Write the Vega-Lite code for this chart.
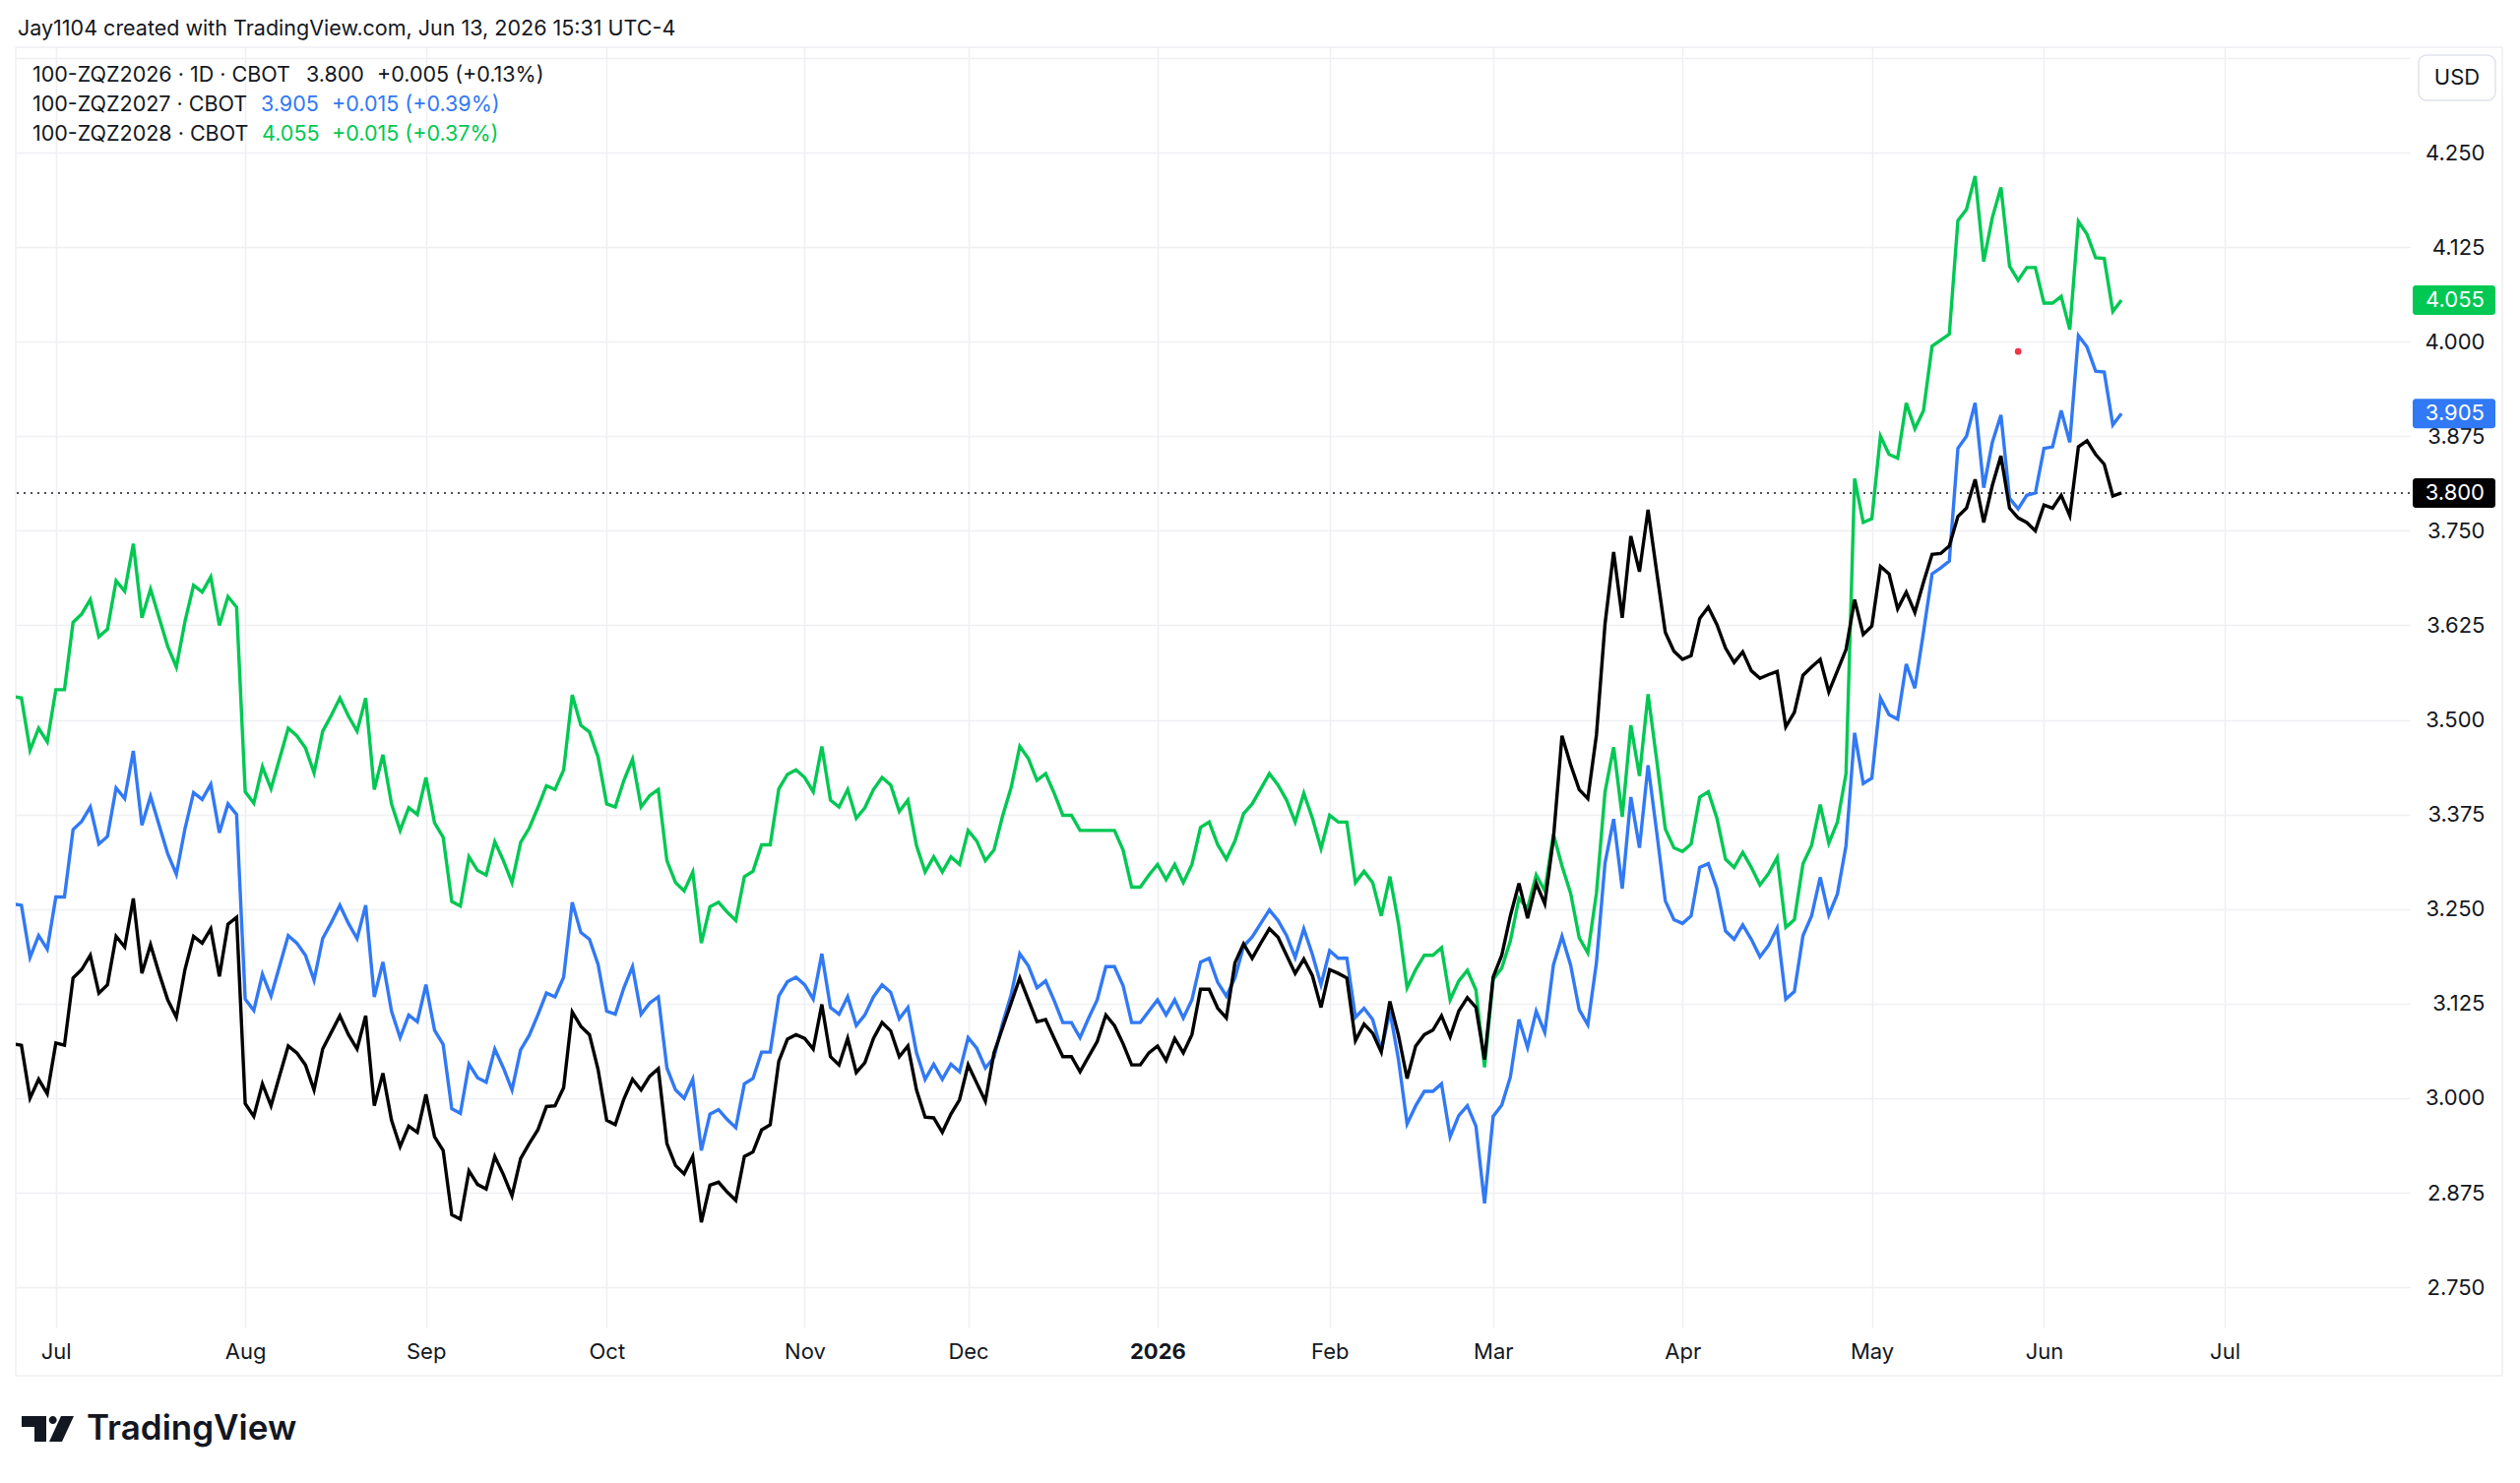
{
  "$schema": "https://vega.github.io/schema/vega-lite/v6.json",
  "width": 2432,
  "height": 1301,
  "autosize": {"type": "none"},
  "padding": {"left": 16, "top": 48, "right": 112, "bottom": 158},
  "background": "#ffffff",
  "config": {
    "view": {"stroke": null},
    "font": "Inter",
    "text": {"font": "Inter"},
    "axis": {"domain": false, "ticks": false, "gridColor": "#eef0f3", "gridWidth": 1.5, "labelFont": "Inter", "labelFontSize": 22, "labelColor": "#131722"}
  },
  "datasets": {
    "prices": [
      {"i": -5, "ZQZ2026": 3.072, "ZQZ2027": 3.257, "ZQZ2028": 3.531},
      {"i": -4, "ZQZ2026": 3.070, "ZQZ2027": 3.255, "ZQZ2028": 3.529},
      {"i": -3, "ZQZ2026": 3.000, "ZQZ2027": 3.186, "ZQZ2028": 3.460},
      {"i": -2, "ZQZ2026": 3.025, "ZQZ2027": 3.215, "ZQZ2028": 3.489},
      {"i": -1, "ZQZ2026": 3.006, "ZQZ2027": 3.197, "ZQZ2028": 3.471},
      {"i": 0, "ZQZ2026": 3.073, "ZQZ2027": 3.266, "ZQZ2028": 3.540},
      {"i": 1, "ZQZ2026": 3.070, "ZQZ2027": 3.266, "ZQZ2028": 3.540},
      {"i": 2, "ZQZ2026": 3.159, "ZQZ2027": 3.355, "ZQZ2028": 3.629},
      {"i": 3, "ZQZ2026": 3.170, "ZQZ2027": 3.366, "ZQZ2028": 3.640},
      {"i": 4, "ZQZ2026": 3.189, "ZQZ2027": 3.385, "ZQZ2028": 3.659},
      {"i": 5, "ZQZ2026": 3.139, "ZQZ2027": 3.336, "ZQZ2028": 3.610},
      {"i": 6, "ZQZ2026": 3.150, "ZQZ2027": 3.346, "ZQZ2028": 3.620},
      {"i": 7, "ZQZ2026": 3.214, "ZQZ2027": 3.410, "ZQZ2028": 3.684},
      {"i": 8, "ZQZ2026": 3.200, "ZQZ2027": 3.396, "ZQZ2028": 3.670},
      {"i": 9, "ZQZ2026": 3.264, "ZQZ2027": 3.459, "ZQZ2028": 3.733},
      {"i": 10, "ZQZ2026": 3.165, "ZQZ2027": 3.361, "ZQZ2028": 3.635},
      {"i": 11, "ZQZ2026": 3.203, "ZQZ2027": 3.399, "ZQZ2028": 3.673},
      {"i": 12, "ZQZ2026": 3.165, "ZQZ2027": 3.361, "ZQZ2028": 3.635},
      {"i": 13, "ZQZ2026": 3.130, "ZQZ2027": 3.323, "ZQZ2028": 3.597},
      {"i": 14, "ZQZ2026": 3.107, "ZQZ2027": 3.296, "ZQZ2028": 3.570},
      {"i": 15, "ZQZ2026": 3.170, "ZQZ2027": 3.356, "ZQZ2028": 3.630},
      {"i": 16, "ZQZ2026": 3.214, "ZQZ2027": 3.404, "ZQZ2028": 3.678},
      {"i": 17, "ZQZ2026": 3.205, "ZQZ2027": 3.395, "ZQZ2028": 3.669},
      {"i": 18, "ZQZ2026": 3.224, "ZQZ2027": 3.415, "ZQZ2028": 3.689},
      {"i": 19, "ZQZ2026": 3.161, "ZQZ2027": 3.351, "ZQZ2028": 3.625},
      {"i": 20, "ZQZ2026": 3.230, "ZQZ2027": 3.389, "ZQZ2028": 3.663},
      {"i": 21, "ZQZ2026": 3.239, "ZQZ2027": 3.375, "ZQZ2028": 3.649},
      {"i": 22, "ZQZ2026": 2.993, "ZQZ2027": 3.131, "ZQZ2028": 3.405},
      {"i": 23, "ZQZ2026": 2.976, "ZQZ2027": 3.116, "ZQZ2028": 3.390},
      {"i": 24, "ZQZ2026": 3.019, "ZQZ2027": 3.164, "ZQZ2028": 3.438},
      {"i": 25, "ZQZ2026": 2.990, "ZQZ2027": 3.135, "ZQZ2028": 3.409},
      {"i": 26, "ZQZ2026": 3.030, "ZQZ2027": 3.175, "ZQZ2028": 3.449},
      {"i": 27, "ZQZ2026": 3.069, "ZQZ2027": 3.215, "ZQZ2028": 3.489},
      {"i": 28, "ZQZ2026": 3.060, "ZQZ2027": 3.205, "ZQZ2028": 3.479},
      {"i": 29, "ZQZ2026": 3.044, "ZQZ2027": 3.189, "ZQZ2028": 3.463},
      {"i": 30, "ZQZ2026": 3.011, "ZQZ2027": 3.156, "ZQZ2028": 3.430},
      {"i": 31, "ZQZ2026": 3.065, "ZQZ2027": 3.211, "ZQZ2028": 3.485},
      {"i": 32, "ZQZ2026": 3.087, "ZQZ2027": 3.232, "ZQZ2028": 3.506},
      {"i": 33, "ZQZ2026": 3.109, "ZQZ2027": 3.255, "ZQZ2028": 3.529},
      {"i": 34, "ZQZ2026": 3.084, "ZQZ2027": 3.231, "ZQZ2028": 3.505},
      {"i": 35, "ZQZ2026": 3.065, "ZQZ2027": 3.211, "ZQZ2028": 3.485},
      {"i": 36, "ZQZ2026": 3.109, "ZQZ2027": 3.255, "ZQZ2028": 3.529},
      {"i": 37, "ZQZ2026": 2.990, "ZQZ2027": 3.134, "ZQZ2028": 3.408},
      {"i": 38, "ZQZ2026": 3.033, "ZQZ2027": 3.180, "ZQZ2028": 3.454},
      {"i": 39, "ZQZ2026": 2.971, "ZQZ2027": 3.115, "ZQZ2028": 3.389},
      {"i": 40, "ZQZ2026": 2.936, "ZQZ2027": 3.080, "ZQZ2028": 3.354},
      {"i": 41, "ZQZ2026": 2.963, "ZQZ2027": 3.110, "ZQZ2028": 3.384},
      {"i": 42, "ZQZ2026": 2.955, "ZQZ2027": 3.101, "ZQZ2028": 3.375},
      {"i": 43, "ZQZ2026": 3.005, "ZQZ2027": 3.150, "ZQZ2028": 3.424},
      {"i": 44, "ZQZ2026": 2.949, "ZQZ2027": 3.090, "ZQZ2028": 3.364},
      {"i": 45, "ZQZ2026": 2.931, "ZQZ2027": 3.071, "ZQZ2028": 3.345},
      {"i": 46, "ZQZ2026": 2.846, "ZQZ2027": 2.986, "ZQZ2028": 3.260},
      {"i": 47, "ZQZ2026": 2.840, "ZQZ2027": 2.980, "ZQZ2028": 3.254},
      {"i": 48, "ZQZ2026": 2.904, "ZQZ2027": 3.045, "ZQZ2028": 3.319},
      {"i": 49, "ZQZ2026": 2.886, "ZQZ2027": 3.027, "ZQZ2028": 3.301},
      {"i": 50, "ZQZ2026": 2.880, "ZQZ2027": 3.021, "ZQZ2028": 3.295},
      {"i": 51, "ZQZ2026": 2.923, "ZQZ2027": 3.065, "ZQZ2028": 3.339},
      {"i": 52, "ZQZ2026": 2.899, "ZQZ2027": 3.040, "ZQZ2028": 3.314},
      {"i": 53, "ZQZ2026": 2.871, "ZQZ2027": 3.011, "ZQZ2028": 3.285},
      {"i": 54, "ZQZ2026": 2.920, "ZQZ2027": 3.064, "ZQZ2028": 3.338},
      {"i": 55, "ZQZ2026": 2.940, "ZQZ2027": 3.083, "ZQZ2028": 3.357},
      {"i": 56, "ZQZ2026": 2.958, "ZQZ2027": 3.110, "ZQZ2028": 3.384},
      {"i": 57, "ZQZ2026": 2.989, "ZQZ2027": 3.139, "ZQZ2028": 3.413},
      {"i": 58, "ZQZ2026": 2.990, "ZQZ2027": 3.134, "ZQZ2028": 3.408},
      {"i": 59, "ZQZ2026": 3.014, "ZQZ2027": 3.160, "ZQZ2028": 3.434},
      {"i": 60, "ZQZ2026": 3.114, "ZQZ2027": 3.259, "ZQZ2028": 3.533},
      {"i": 61, "ZQZ2026": 3.095, "ZQZ2027": 3.219, "ZQZ2028": 3.493},
      {"i": 62, "ZQZ2026": 3.084, "ZQZ2027": 3.210, "ZQZ2028": 3.484},
      {"i": 63, "ZQZ2026": 3.038, "ZQZ2027": 3.177, "ZQZ2028": 3.451},
      {"i": 64, "ZQZ2026": 2.971, "ZQZ2027": 3.115, "ZQZ2028": 3.389},
      {"i": 65, "ZQZ2026": 2.965, "ZQZ2027": 3.111, "ZQZ2028": 3.385},
      {"i": 66, "ZQZ2026": 2.999, "ZQZ2027": 3.146, "ZQZ2028": 3.420},
      {"i": 67, "ZQZ2026": 3.025, "ZQZ2027": 3.174, "ZQZ2028": 3.448},
      {"i": 68, "ZQZ2026": 3.011, "ZQZ2027": 3.111, "ZQZ2028": 3.385},
      {"i": 69, "ZQZ2026": 3.029, "ZQZ2027": 3.126, "ZQZ2028": 3.400},
      {"i": 70, "ZQZ2026": 3.039, "ZQZ2027": 3.134, "ZQZ2028": 3.408},
      {"i": 71, "ZQZ2026": 2.940, "ZQZ2027": 3.040, "ZQZ2028": 3.314},
      {"i": 72, "ZQZ2026": 2.911, "ZQZ2027": 3.011, "ZQZ2028": 3.285},
      {"i": 73, "ZQZ2026": 2.900, "ZQZ2027": 3.000, "ZQZ2028": 3.274},
      {"i": 74, "ZQZ2026": 2.923, "ZQZ2027": 3.025, "ZQZ2028": 3.299},
      {"i": 75, "ZQZ2026": 2.836, "ZQZ2027": 2.931, "ZQZ2028": 3.205},
      {"i": 76, "ZQZ2026": 2.885, "ZQZ2027": 2.979, "ZQZ2028": 3.253},
      {"i": 77, "ZQZ2026": 2.889, "ZQZ2027": 2.985, "ZQZ2028": 3.259},
      {"i": 78, "ZQZ2026": 2.876, "ZQZ2027": 2.972, "ZQZ2028": 3.246},
      {"i": 79, "ZQZ2026": 2.865, "ZQZ2027": 2.961, "ZQZ2028": 3.235},
      {"i": 80, "ZQZ2026": 2.923, "ZQZ2027": 3.019, "ZQZ2028": 3.293},
      {"i": 81, "ZQZ2026": 2.929, "ZQZ2027": 3.026, "ZQZ2028": 3.300},
      {"i": 82, "ZQZ2026": 2.958, "ZQZ2027": 3.061, "ZQZ2028": 3.335},
      {"i": 83, "ZQZ2026": 2.965, "ZQZ2027": 3.061, "ZQZ2028": 3.335},
      {"i": 84, "ZQZ2026": 3.049, "ZQZ2027": 3.135, "ZQZ2028": 3.409},
      {"i": 85, "ZQZ2026": 3.078, "ZQZ2027": 3.154, "ZQZ2028": 3.428},
      {"i": 86, "ZQZ2026": 3.084, "ZQZ2027": 3.160, "ZQZ2028": 3.434},
      {"i": 87, "ZQZ2026": 3.079, "ZQZ2027": 3.150, "ZQZ2028": 3.424},
      {"i": 88, "ZQZ2026": 3.065, "ZQZ2027": 3.131, "ZQZ2028": 3.405},
      {"i": 89, "ZQZ2026": 3.124, "ZQZ2027": 3.191, "ZQZ2028": 3.465},
      {"i": 90, "ZQZ2026": 3.055, "ZQZ2027": 3.120, "ZQZ2028": 3.394},
      {"i": 91, "ZQZ2026": 3.044, "ZQZ2027": 3.111, "ZQZ2028": 3.385},
      {"i": 92, "ZQZ2026": 3.079, "ZQZ2027": 3.134, "ZQZ2028": 3.408},
      {"i": 93, "ZQZ2026": 3.034, "ZQZ2027": 3.096, "ZQZ2028": 3.370},
      {"i": 94, "ZQZ2026": 3.047, "ZQZ2027": 3.110, "ZQZ2028": 3.384},
      {"i": 95, "ZQZ2026": 3.079, "ZQZ2027": 3.134, "ZQZ2028": 3.408},
      {"i": 96, "ZQZ2026": 3.100, "ZQZ2027": 3.150, "ZQZ2028": 3.424},
      {"i": 97, "ZQZ2026": 3.089, "ZQZ2027": 3.140, "ZQZ2028": 3.414},
      {"i": 98, "ZQZ2026": 3.055, "ZQZ2027": 3.105, "ZQZ2028": 3.379},
      {"i": 99, "ZQZ2026": 3.069, "ZQZ2027": 3.120, "ZQZ2028": 3.394},
      {"i": 100, "ZQZ2026": 3.011, "ZQZ2027": 3.060, "ZQZ2028": 3.334},
      {"i": 101, "ZQZ2026": 2.975, "ZQZ2027": 3.025, "ZQZ2028": 3.299},
      {"i": 102, "ZQZ2026": 2.974, "ZQZ2027": 3.045, "ZQZ2028": 3.319},
      {"i": 103, "ZQZ2026": 2.955, "ZQZ2027": 3.025, "ZQZ2028": 3.299},
      {"i": 104, "ZQZ2026": 2.979, "ZQZ2027": 3.045, "ZQZ2028": 3.319},
      {"i": 105, "ZQZ2026": 2.998, "ZQZ2027": 3.035, "ZQZ2028": 3.309},
      {"i": 106, "ZQZ2026": 3.044, "ZQZ2027": 3.080, "ZQZ2028": 3.354},
      {"i": 107, "ZQZ2026": 3.020, "ZQZ2027": 3.066, "ZQZ2028": 3.340},
      {"i": 108, "ZQZ2026": 2.996, "ZQZ2027": 3.040, "ZQZ2028": 3.314},
      {"i": 109, "ZQZ2026": 3.060, "ZQZ2027": 3.054, "ZQZ2028": 3.328},
      {"i": 110, "ZQZ2026": 3.093, "ZQZ2027": 3.099, "ZQZ2028": 3.373},
      {"i": 111, "ZQZ2026": 3.126, "ZQZ2027": 3.137, "ZQZ2028": 3.411},
      {"i": 112, "ZQZ2026": 3.159, "ZQZ2027": 3.191, "ZQZ2028": 3.465},
      {"i": 113, "ZQZ2026": 3.130, "ZQZ2027": 3.175, "ZQZ2028": 3.449},
      {"i": 114, "ZQZ2026": 3.101, "ZQZ2027": 3.146, "ZQZ2028": 3.420},
      {"i": 115, "ZQZ2026": 3.104, "ZQZ2027": 3.155, "ZQZ2028": 3.429},
      {"i": 116, "ZQZ2026": 3.079, "ZQZ2027": 3.129, "ZQZ2028": 3.403},
      {"i": 117, "ZQZ2026": 3.055, "ZQZ2027": 3.100, "ZQZ2028": 3.374},
      {"i": 118, "ZQZ2026": 3.055, "ZQZ2027": 3.100, "ZQZ2028": 3.374},
      {"i": 119, "ZQZ2026": 3.035, "ZQZ2027": 3.080, "ZQZ2028": 3.354},
      {"i": 120, "ZQZ2026": 3.055, "ZQZ2027": 3.106, "ZQZ2028": 3.354},
      {"i": 121, "ZQZ2026": 3.075, "ZQZ2027": 3.130, "ZQZ2028": 3.354},
      {"i": 122, "ZQZ2026": 3.110, "ZQZ2027": 3.174, "ZQZ2028": 3.354},
      {"i": 123, "ZQZ2026": 3.096, "ZQZ2027": 3.174, "ZQZ2028": 3.354},
      {"i": 124, "ZQZ2026": 3.072, "ZQZ2027": 3.149, "ZQZ2028": 3.328},
      {"i": 125, "ZQZ2026": 3.044, "ZQZ2027": 3.100, "ZQZ2028": 3.279},
      {"i": 126, "ZQZ2026": 3.044, "ZQZ2027": 3.100, "ZQZ2028": 3.279},
      {"i": 127, "ZQZ2026": 3.060, "ZQZ2027": 3.115, "ZQZ2028": 3.295},
      {"i": 128, "ZQZ2026": 3.069, "ZQZ2027": 3.130, "ZQZ2028": 3.309},
      {"i": 129, "ZQZ2026": 3.050, "ZQZ2027": 3.110, "ZQZ2028": 3.289},
      {"i": 130, "ZQZ2026": 3.079, "ZQZ2027": 3.130, "ZQZ2028": 3.309},
      {"i": 131, "ZQZ2026": 3.060, "ZQZ2027": 3.106, "ZQZ2028": 3.285},
      {"i": 132, "ZQZ2026": 3.084, "ZQZ2027": 3.130, "ZQZ2028": 3.309},
      {"i": 133, "ZQZ2026": 3.144, "ZQZ2027": 3.180, "ZQZ2028": 3.358},
      {"i": 134, "ZQZ2026": 3.144, "ZQZ2027": 3.185, "ZQZ2028": 3.365},
      {"i": 135, "ZQZ2026": 3.119, "ZQZ2027": 3.153, "ZQZ2028": 3.335},
      {"i": 136, "ZQZ2026": 3.106, "ZQZ2027": 3.135, "ZQZ2028": 3.316},
      {"i": 137, "ZQZ2026": 3.179, "ZQZ2027": 3.159, "ZQZ2028": 3.340},
      {"i": 138, "ZQZ2026": 3.204, "ZQZ2027": 3.201, "ZQZ2028": 3.376},
      {"i": 139, "ZQZ2026": 3.185, "ZQZ2027": 3.213, "ZQZ2028": 3.389},
      {"i": 140, "ZQZ2026": 3.205, "ZQZ2027": 3.231, "ZQZ2028": 3.409},
      {"i": 141, "ZQZ2026": 3.224, "ZQZ2027": 3.249, "ZQZ2028": 3.429},
      {"i": 142, "ZQZ2026": 3.213, "ZQZ2027": 3.235, "ZQZ2028": 3.414},
      {"i": 143, "ZQZ2026": 3.189, "ZQZ2027": 3.215, "ZQZ2028": 3.394},
      {"i": 144, "ZQZ2026": 3.165, "ZQZ2027": 3.186, "ZQZ2028": 3.365},
      {"i": 145, "ZQZ2026": 3.184, "ZQZ2027": 3.224, "ZQZ2028": 3.403},
      {"i": 146, "ZQZ2026": 3.162, "ZQZ2027": 3.190, "ZQZ2028": 3.370},
      {"i": 147, "ZQZ2026": 3.120, "ZQZ2027": 3.150, "ZQZ2028": 3.330},
      {"i": 148, "ZQZ2026": 3.170, "ZQZ2027": 3.195, "ZQZ2028": 3.374},
      {"i": 149, "ZQZ2026": 3.165, "ZQZ2027": 3.185, "ZQZ2028": 3.365},
      {"i": 150, "ZQZ2026": 3.159, "ZQZ2027": 3.185, "ZQZ2028": 3.365},
      {"i": 151, "ZQZ2026": 3.076, "ZQZ2027": 3.107, "ZQZ2028": 3.285},
      {"i": 152, "ZQZ2026": 3.098, "ZQZ2027": 3.119, "ZQZ2028": 3.300},
      {"i": 153, "ZQZ2026": 3.086, "ZQZ2027": 3.104, "ZQZ2028": 3.285},
      {"i": 154, "ZQZ2026": 3.061, "ZQZ2027": 3.063, "ZQZ2028": 3.241},
      {"i": 155, "ZQZ2026": 3.128, "ZQZ2027": 3.115, "ZQZ2028": 3.293},
      {"i": 156, "ZQZ2026": 3.083, "ZQZ2027": 3.051, "ZQZ2028": 3.231},
      {"i": 157, "ZQZ2026": 3.026, "ZQZ2027": 2.966, "ZQZ2028": 3.146},
      {"i": 158, "ZQZ2026": 3.069, "ZQZ2027": 2.990, "ZQZ2028": 3.170},
      {"i": 159, "ZQZ2026": 3.084, "ZQZ2027": 3.009, "ZQZ2028": 3.189},
      {"i": 160, "ZQZ2026": 3.090, "ZQZ2027": 3.009, "ZQZ2028": 3.189},
      {"i": 161, "ZQZ2026": 3.109, "ZQZ2027": 3.019, "ZQZ2028": 3.199},
      {"i": 162, "ZQZ2026": 3.081, "ZQZ2027": 2.949, "ZQZ2028": 3.130},
      {"i": 163, "ZQZ2026": 3.115, "ZQZ2027": 2.977, "ZQZ2028": 3.155},
      {"i": 164, "ZQZ2026": 3.133, "ZQZ2027": 2.990, "ZQZ2028": 3.169},
      {"i": 165, "ZQZ2026": 3.120, "ZQZ2027": 2.963, "ZQZ2028": 3.143},
      {"i": 166, "ZQZ2026": 3.051, "ZQZ2027": 2.861, "ZQZ2028": 3.041},
      {"i": 167, "ZQZ2026": 3.160, "ZQZ2027": 2.976, "ZQZ2028": 3.157},
      {"i": 168, "ZQZ2026": 3.189, "ZQZ2027": 2.991, "ZQZ2028": 3.172},
      {"i": 169, "ZQZ2026": 3.241, "ZQZ2027": 3.028, "ZQZ2028": 3.208},
      {"i": 170, "ZQZ2026": 3.284, "ZQZ2027": 3.104, "ZQZ2028": 3.264},
      {"i": 171, "ZQZ2026": 3.238, "ZQZ2027": 3.067, "ZQZ2028": 3.251},
      {"i": 172, "ZQZ2026": 3.284, "ZQZ2027": 3.115, "ZQZ2028": 3.295},
      {"i": 173, "ZQZ2026": 3.257, "ZQZ2027": 3.087, "ZQZ2028": 3.274},
      {"i": 174, "ZQZ2026": 3.343, "ZQZ2027": 3.176, "ZQZ2028": 3.349},
      {"i": 175, "ZQZ2026": 3.479, "ZQZ2027": 3.214, "ZQZ2028": 3.307},
      {"i": 176, "ZQZ2026": 3.441, "ZQZ2027": 3.176, "ZQZ2028": 3.271},
      {"i": 177, "ZQZ2026": 3.408, "ZQZ2027": 3.117, "ZQZ2028": 3.212},
      {"i": 178, "ZQZ2026": 3.396, "ZQZ2027": 3.097, "ZQZ2028": 3.192},
      {"i": 179, "ZQZ2026": 3.480, "ZQZ2027": 3.179, "ZQZ2028": 3.271},
      {"i": 180, "ZQZ2026": 3.627, "ZQZ2027": 3.311, "ZQZ2028": 3.405},
      {"i": 181, "ZQZ2026": 3.722, "ZQZ2027": 3.369, "ZQZ2028": 3.464},
      {"i": 182, "ZQZ2026": 3.635, "ZQZ2027": 3.277, "ZQZ2028": 3.372},
      {"i": 183, "ZQZ2026": 3.743, "ZQZ2027": 3.398, "ZQZ2028": 3.493},
      {"i": 184, "ZQZ2026": 3.696, "ZQZ2027": 3.331, "ZQZ2028": 3.426},
      {"i": 185, "ZQZ2026": 3.778, "ZQZ2027": 3.440, "ZQZ2028": 3.534},
      {"i": 186, "ZQZ2026": 3.696, "ZQZ2027": 3.352, "ZQZ2028": 3.447},
      {"i": 187, "ZQZ2026": 3.616, "ZQZ2027": 3.261, "ZQZ2028": 3.356},
      {"i": 188, "ZQZ2026": 3.591, "ZQZ2027": 3.236, "ZQZ2028": 3.331},
      {"i": 189, "ZQZ2026": 3.580, "ZQZ2027": 3.231, "ZQZ2028": 3.326},
      {"i": 190, "ZQZ2026": 3.585, "ZQZ2027": 3.241, "ZQZ2028": 3.336},
      {"i": 191, "ZQZ2026": 3.634, "ZQZ2027": 3.305, "ZQZ2028": 3.398},
      {"i": 192, "ZQZ2026": 3.649, "ZQZ2027": 3.310, "ZQZ2028": 3.405},
      {"i": 193, "ZQZ2026": 3.626, "ZQZ2027": 3.277, "ZQZ2028": 3.370},
      {"i": 194, "ZQZ2026": 3.595, "ZQZ2027": 3.221, "ZQZ2028": 3.316},
      {"i": 195, "ZQZ2026": 3.576, "ZQZ2027": 3.210, "ZQZ2028": 3.305},
      {"i": 196, "ZQZ2026": 3.590, "ZQZ2027": 3.229, "ZQZ2028": 3.325},
      {"i": 197, "ZQZ2026": 3.565, "ZQZ2027": 3.210, "ZQZ2028": 3.305},
      {"i": 198, "ZQZ2026": 3.555, "ZQZ2027": 3.187, "ZQZ2028": 3.282},
      {"i": 199, "ZQZ2026": 3.560, "ZQZ2027": 3.202, "ZQZ2028": 3.297},
      {"i": 200, "ZQZ2026": 3.564, "ZQZ2027": 3.225, "ZQZ2028": 3.318},
      {"i": 201, "ZQZ2026": 3.491, "ZQZ2027": 3.131, "ZQZ2028": 3.226},
      {"i": 202, "ZQZ2026": 3.510, "ZQZ2027": 3.141, "ZQZ2028": 3.236},
      {"i": 203, "ZQZ2026": 3.559, "ZQZ2027": 3.215, "ZQZ2028": 3.310},
      {"i": 204, "ZQZ2026": 3.570, "ZQZ2027": 3.241, "ZQZ2028": 3.334},
      {"i": 205, "ZQZ2026": 3.580, "ZQZ2027": 3.292, "ZQZ2028": 3.388},
      {"i": 206, "ZQZ2026": 3.537, "ZQZ2027": 3.242, "ZQZ2028": 3.337},
      {"i": 207, "ZQZ2026": 3.565, "ZQZ2027": 3.270, "ZQZ2028": 3.365},
      {"i": 208, "ZQZ2026": 3.593, "ZQZ2027": 3.334, "ZQZ2028": 3.429},
      {"i": 209, "ZQZ2026": 3.659, "ZQZ2027": 3.483, "ZQZ2028": 3.819},
      {"i": 210, "ZQZ2026": 3.613, "ZQZ2027": 3.416, "ZQZ2028": 3.761},
      {"i": 211, "ZQZ2026": 3.624, "ZQZ2027": 3.423, "ZQZ2028": 3.766},
      {"i": 212, "ZQZ2026": 3.703, "ZQZ2027": 3.529, "ZQZ2028": 3.875},
      {"i": 213, "ZQZ2026": 3.693, "ZQZ2027": 3.507, "ZQZ2028": 3.851},
      {"i": 214, "ZQZ2026": 3.647, "ZQZ2027": 3.501, "ZQZ2028": 3.846},
      {"i": 215, "ZQZ2026": 3.669, "ZQZ2027": 3.574, "ZQZ2028": 3.919},
      {"i": 216, "ZQZ2026": 3.642, "ZQZ2027": 3.542, "ZQZ2028": 3.885},
      {"i": 217, "ZQZ2026": 3.682, "ZQZ2027": 3.616, "ZQZ2028": 3.909},
      {"i": 218, "ZQZ2026": 3.719, "ZQZ2027": 3.693, "ZQZ2028": 3.994},
      {"i": 219, "ZQZ2026": 3.720, "ZQZ2027": 3.701, "ZQZ2028": 4.002},
      {"i": 220, "ZQZ2026": 3.730, "ZQZ2027": 3.710, "ZQZ2028": 4.010},
      {"i": 221, "ZQZ2026": 3.769, "ZQZ2027": 3.859, "ZQZ2028": 4.160},
      {"i": 222, "ZQZ2026": 3.780, "ZQZ2027": 3.875, "ZQZ2028": 4.175},
      {"i": 223, "ZQZ2026": 3.818, "ZQZ2027": 3.919, "ZQZ2028": 4.219},
      {"i": 224, "ZQZ2026": 3.761, "ZQZ2027": 3.807, "ZQZ2028": 4.106},
      {"i": 225, "ZQZ2026": 3.810, "ZQZ2027": 3.867, "ZQZ2028": 4.164},
      {"i": 226, "ZQZ2026": 3.849, "ZQZ2027": 3.903, "ZQZ2028": 4.204},
      {"i": 227, "ZQZ2026": 3.780, "ZQZ2027": 3.793, "ZQZ2028": 4.100},
      {"i": 228, "ZQZ2026": 3.767, "ZQZ2027": 3.779, "ZQZ2028": 4.081},
      {"i": 229, "ZQZ2026": 3.761, "ZQZ2027": 3.797, "ZQZ2028": 4.098},
      {"i": 230, "ZQZ2026": 3.750, "ZQZ2027": 3.800, "ZQZ2028": 4.098},
      {"i": 231, "ZQZ2026": 3.784, "ZQZ2027": 3.859, "ZQZ2028": 4.051},
      {"i": 232, "ZQZ2026": 3.780, "ZQZ2027": 3.861, "ZQZ2028": 4.051},
      {"i": 233, "ZQZ2026": 3.797, "ZQZ2027": 3.909, "ZQZ2028": 4.060},
      {"i": 234, "ZQZ2026": 3.770, "ZQZ2027": 3.867, "ZQZ2028": 4.016},
      {"i": 235, "ZQZ2026": 3.861, "ZQZ2027": 4.008, "ZQZ2028": 4.159},
      {"i": 236, "ZQZ2026": 3.869, "ZQZ2027": 3.993, "ZQZ2028": 4.142},
      {"i": 237, "ZQZ2026": 3.851, "ZQZ2027": 3.961, "ZQZ2028": 4.111},
      {"i": 238, "ZQZ2026": 3.838, "ZQZ2027": 3.960, "ZQZ2028": 4.110},
      {"i": 239, "ZQZ2026": 3.796, "ZQZ2027": 3.890, "ZQZ2028": 4.040},
      {"i": 240, "ZQZ2026": 3.800, "ZQZ2027": 3.905, "ZQZ2028": 4.055}
    ],
    "markers": [{"i": 228, "value": 3.987}]
  },
  "layer": [
    {
      "data": {"values": [{}]},
      "mark": {"type": "rect", "fill": null, "fillOpacity": 0, "stroke": "#eef0f3", "strokeWidth": 1.5},
      "encoding": {"x": {"value": 0}, "x2": {"value": 2526}, "y": {"value": 0}, "y2": {"value": 1350}}
    },
    {
      "data": {"values": [{}]},
      "mark": {"type": "rule", "color": "#131722", "strokeWidth": 1.5, "strokeDash": [2, 5]},
      "encoding": {
        "y": {"datum": 3.8, "type": "quantitative", "scale": {"domain": [2.6969, 4.3892], "nice": false, "zero": false}, "title": null,
          "axis": {"orient": "right", "values": [2.75, 2.875, 3, 3.125, 3.25, 3.375, 3.5, 3.625, 3.75, 3.875, 4, 4.125, 4.25, 4.375], "format": ".3f", "labelExpr": "datum.value > 4.3 ? '' : datum.label", "labelAlign": "right", "labelPadding": 76, "labelBaseline": "middle", "labelFlush": false, "labelOverlap": false, "grid": true}}
      }
    },
    {
      "data": {"name": "prices"},
      "mark": {"type": "line", "color": "#00c853", "strokeWidth": 3.4, "clip": true},
      "encoding": {
        "x": {"field": "i", "type": "quantitative", "scale": {"domain": [-4.66, 273.5], "nice": false, "zero": false}, "title": null,
          "axis": {"values": [0, 22, 43, 64, 87, 106, 128, 148, 167, 189, 211, 231, 252], "labelExpr": "['Jul','Aug','Sep','Oct','Nov','Dec','2026','Feb','Mar','Apr','May','Jun','Jul'][indexof([0,22,43,64,87,106,128,148,167,189,211,231,252], datum.value)]", "labelFontWeight": {"condition": {"test": "datum.value == 128", "value": "bold"}, "value": "normal"}, "labelPadding": 14, "labelBaseline": "top", "labelFlush": false, "labelOverlap": false, "grid": true}},
        "y": {"field": "ZQZ2028", "type": "quantitative", "title": null}
      }
    },
    {
      "data": {"name": "prices"},
      "mark": {"type": "line", "color": "#3179f5", "strokeWidth": 3.4, "clip": true},
      "encoding": {
        "x": {"field": "i", "type": "quantitative", "title": null},
        "y": {"field": "ZQZ2027", "type": "quantitative", "title": null}
      }
    },
    {
      "data": {"name": "prices"},
      "mark": {"type": "line", "color": "#000000", "strokeWidth": 3.4, "clip": true},
      "encoding": {
        "x": {"field": "i", "type": "quantitative", "title": null},
        "y": {"field": "ZQZ2026", "type": "quantitative", "title": null}
      }
    },
    {
      "data": {"name": "markers"},
      "mark": {"type": "circle", "color": "#f23645", "size": 45, "opacity": 1},
      "encoding": {
        "x": {"field": "i", "type": "quantitative", "title": null},
        "y": {"field": "value", "type": "quantitative", "title": null}
      }
    },
    {
      "data": {"name": "prices"},
      "transform": [
        {"filter": "datum.i == 240"},
        {"fold": ["ZQZ2026", "ZQZ2027", "ZQZ2028"], "as": ["series", "value"]}
      ],
      "layer": [
        {
          "mark": {"type": "rect", "yOffset": -15, "y2Offset": 15, "cornerRadius": 3},
          "encoding": {
            "x": {"value": 2435},
            "x2": {"value": 2519},
            "y": {"field": "value", "type": "quantitative", "title": null},
            "y2": {"field": "value"},
            "color": {"field": "series", "type": "nominal", "scale": {"domain": ["ZQZ2026", "ZQZ2027", "ZQZ2028"], "range": ["#000000", "#3179f5", "#00c853"]}, "legend": null}
          }
        },
        {
          "mark": {"type": "text", "align": "right", "baseline": "middle", "fontSize": 22, "color": "#ffffff"},
          "encoding": {
            "x": {"value": 2508},
            "y": {"field": "value", "type": "quantitative", "title": null},
            "text": {"field": "value", "type": "quantitative", "format": ".3f"}
          }
        }
      ]
    },
    {
      "data": {"values": [{}]},
      "mark": {"type": "rect", "fill": "#ffffff", "stroke": "#e0e3eb", "strokeWidth": 1.5, "cornerRadius": 8},
      "encoding": {"x": {"value": 2441}, "x2": {"value": 2519}, "y": {"value": 8}, "y2": {"value": 54}}
    },
    {
      "data": {"values": [{"t": "USD"}]},
      "mark": {"type": "text", "align": "center", "baseline": "middle", "fontSize": 22, "color": "#131722"},
      "encoding": {"x": {"value": 2480}, "y": {"value": 31}, "text": {"field": "t"}}
    },
    {
      "data": {"values": [{"t": "Jay1104 created with TradingView.com, Jun 13, 2026 15:31 UTC-4"}]},
      "mark": {"type": "text", "align": "left", "baseline": "middle", "fontSize": 21.5, "color": "#131722"},
      "encoding": {"x": {"value": 2}, "y": {"value": -18}, "text": {"field": "t"}}
    },
    {
      "data": {"values": [{"t": "100-ZQZ2026 · 1D · CBOT"}]},
      "mark": {"type": "text", "align": "left", "baseline": "middle", "fontSize": 21.5, "color": "#131722"},
      "encoding": {"x": {"value": 17}, "y": {"value": 29}, "text": {"field": "t"}}
    },
    {
      "data": {"values": [{"t": "3.800"}]},
      "mark": {"type": "text", "align": "left", "baseline": "middle", "fontSize": 21.5, "color": "#131722"},
      "encoding": {"x": {"value": 295}, "y": {"value": 29}, "text": {"field": "t"}}
    },
    {
      "data": {"values": [{"t": "+0.005 (+0.13%)"}]},
      "mark": {"type": "text", "align": "left", "baseline": "middle", "fontSize": 21.5, "color": "#131722"},
      "encoding": {"x": {"value": 367}, "y": {"value": 29}, "text": {"field": "t"}}
    },
    {
      "data": {"values": [{"t": "100-ZQZ2027 · CBOT"}]},
      "mark": {"type": "text", "align": "left", "baseline": "middle", "fontSize": 21.5, "color": "#131722"},
      "encoding": {"x": {"value": 17}, "y": {"value": 59}, "text": {"field": "t"}}
    },
    {
      "data": {"values": [{"t": "3.905"}]},
      "mark": {"type": "text", "align": "left", "baseline": "middle", "fontSize": 21.5, "color": "#3179f5"},
      "encoding": {"x": {"value": 249}, "y": {"value": 59}, "text": {"field": "t"}}
    },
    {
      "data": {"values": [{"t": "+0.015 (+0.39%)"}]},
      "mark": {"type": "text", "align": "left", "baseline": "middle", "fontSize": 21.5, "color": "#3179f5"},
      "encoding": {"x": {"value": 321}, "y": {"value": 59}, "text": {"field": "t"}}
    },
    {
      "data": {"values": [{"t": "100-ZQZ2028 · CBOT"}]},
      "mark": {"type": "text", "align": "left", "baseline": "middle", "fontSize": 21.5, "color": "#131722"},
      "encoding": {"x": {"value": 17}, "y": {"value": 89}, "text": {"field": "t"}}
    },
    {
      "data": {"values": [{"t": "4.055"}]},
      "mark": {"type": "text", "align": "left", "baseline": "middle", "fontSize": 21.5, "color": "#00c853"},
      "encoding": {"x": {"value": 250}, "y": {"value": 89}, "text": {"field": "t"}}
    },
    {
      "data": {"values": [{"t": "+0.015 (+0.37%)"}]},
      "mark": {"type": "text", "align": "left", "baseline": "middle", "fontSize": 21.5, "color": "#00c853"},
      "encoding": {"x": {"value": 321}, "y": {"value": 89}, "text": {"field": "t"}}
    },
    {
      "data": {"values": [{}]},
      "mark": {"type": "point", "filled": true, "color": "#131722", "opacity": 1, "strokeWidth": 0, "size": 2809,
        "shape": "M-1,-0.491L-0.057,-0.491L-0.057,0.491L-0.509,0.491L-0.509,-0.075L-1,-0.075Z M0.045,-0.34A0.151,0.151 0 1,0 0.347,-0.34A0.151,0.151 0 1,0 0.045,-0.34Z M0.509,-0.491L1,-0.491L0.547,0.491L0.057,0.491Z"},
      "encoding": {"x": {"value": 32.5}, "y": {"value": 1404}}
    },
    {
      "data": {"values": [{"t": "TradingView"}]},
      "mark": {"type": "text", "align": "left", "baseline": "middle", "fontSize": 35, "fontWeight": 600, "color": "#131722"},
      "encoding": {"x": {"value": 72}, "y": {"value": 1404}, "text": {"field": "t"}}
    }
  ]
}
